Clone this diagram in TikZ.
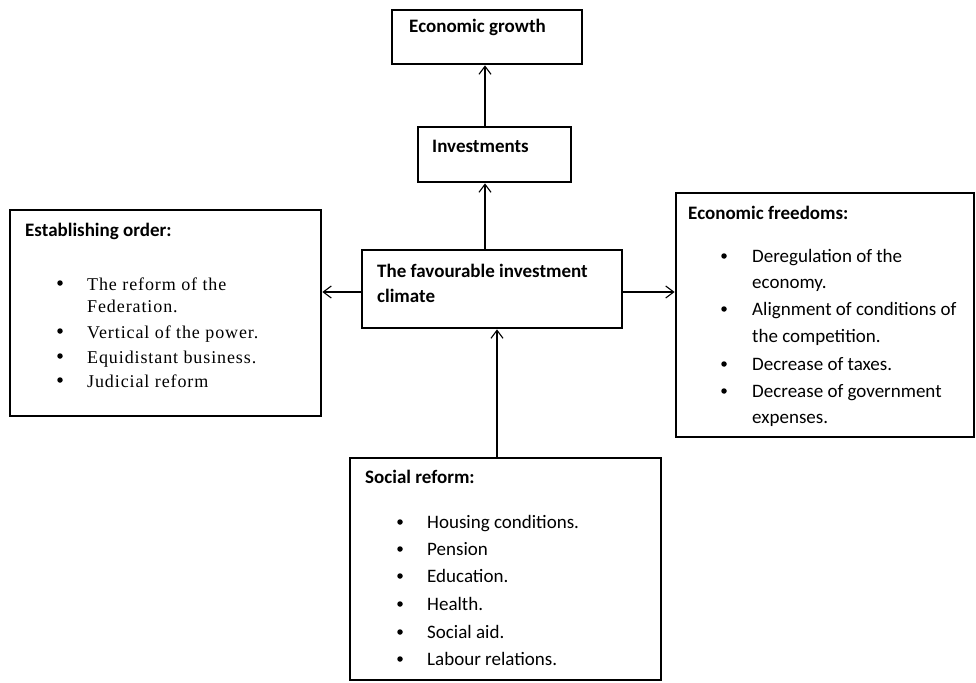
\documentclass[tikz,border=0pt]{standalone}
\usepackage{fontspec}
\setmainfont{Carlito}
\newfontfamily\timesf{Liberation Serif}[LetterSpace=5]
\usetikzlibrary{arrows.meta}
\begin{document}
\begin{tikzpicture}[x=1pt,y=-1pt,
  box/.style={draw, line width=2.8pt, inner sep=0pt},
  arr/.style={-{Straight Barb[length=8pt,width=12pt]}, line width=1.1pt},
  head/.style={anchor=base west, inner sep=0pt, font=\fontsize{19}{23}\selectfont\bfseries},
  item/.style={anchor=base west, inner sep=0pt, font=\fontsize{19}{23}\selectfont},
  titem/.style={anchor=base west, inner sep=0pt, font=\fontsize{18}{22}\selectfont\timesf},
  dot/.style={circle, fill, inner sep=0pt, minimum size=5.5pt}]
\useasboundingbox (0,0) rectangle (976,682);
% boxes
\node[box, minimum width=190pt, minimum height=54pt] (eg) at (487,37) {};
\node[box, minimum width=153pt, minimum height=55pt] (inv) at (494.5,154.5) {};
\node[box, minimum width=260pt, minimum height=78pt] (fav) at (492,289) {};
\node[box, minimum width=311pt, minimum height=206pt] (est) at (165.5,313) {};
\node[box, minimum width=298pt, minimum height=244pt] (fre) at (825,315) {};
\node[box, minimum width=311pt, minimum height=222pt] (soc) at (505.5,569) {};
% connectors
\coordinate (ax) at (485,0);
\coordinate (sx) at (497,0);
\coordinate (hy) at (0,292);
\draw[arr] (inv.north -| ax) -- (eg.south -| ax);
\draw[arr] (fav.north -| ax) -- (inv.south -| ax);
\draw[arr] (fav.west |- hy) -- (est.east |- hy);
\draw[arr] (fav.east |- hy) -- (fre.west |- hy);
\draw[arr] (soc.north -| sx) -- (fav.south -| sx);
% headings
\node[head] (egt) at (409,33) {Economic growth};
\node[head] (invt) at (432,152) {Investments};
\node[head] (favt1) at (377,277) {The favourable investment};
\node[head] (favt2) at (377,302) {climate};
\node[head] (estt) at (25,236) {Establishing order:};
\node[head] (fret) at (688,219) {Economic freedoms:};
\node[head] (soct) at (365,483) {Social reform:};
% establishing order list
\node[titem] (e1) at (87,290) {The reform of the};
\node[titem] (e2) at (87,312) {Federation.};
\node[titem] (e3) at (87,338) {Vertical of the power.};
\node[titem] (e4) at (87,363) {Equidistant business.};
\node[titem] (e5) at (87,387) {Judicial reform};
\node[dot] (eb1) at (60,283) {};
\node[dot] (eb2) at (60,331) {};
\node[dot] (eb3) at (60,356) {};
\node[dot] (eb4) at (60,380) {};
% economic freedoms list
\node[item] (f1) at (752,262) {Deregulation of the};
\node[item] (f2) at (752,288) {economy.};
\node[item] (f3) at (752,315) {Alignment of conditions of};
\node[item] (f4) at (752,342) {the competition.};
\node[item] (f5) at (752,370) {Decrease of taxes.};
\node[item] (f6) at (752,397) {Decrease of government};
\node[item] (f7) at (752,423) {expenses.};
\node[dot] (fb1) at (724,256) {};
\node[dot] (fb2) at (724,309) {};
\node[dot] (fb3) at (724,364) {};
\node[dot] (fb4) at (724,391) {};
% social reform list
\node[item] (s1) at (427,528) {Housing conditions.};
\node[item] (s2) at (427,555) {Pension};
\node[item] (s3) at (427,582) {Education.};
\node[item] (s4) at (427,610) {Health.};
\node[item] (s5) at (427,638) {Social aid.};
\node[item] (s6) at (427,665) {Labour relations.};
\node[dot] (sb1) at (400,522) {};
\node[dot] (sb2) at (400,549) {};
\node[dot] (sb3) at (400,576) {};
\node[dot] (sb4) at (400,604) {};
\node[dot] (sb5) at (400,632) {};
\node[dot] (sb6) at (400,659) {};
\end{tikzpicture}
\end{document}
